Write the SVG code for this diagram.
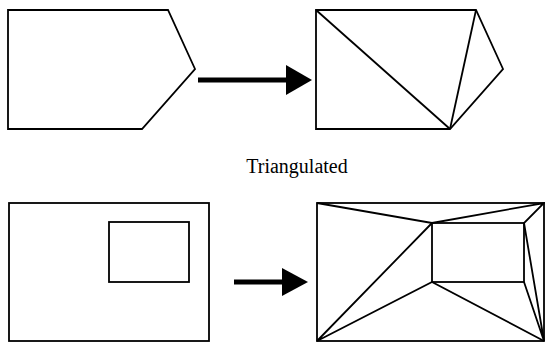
<svg xmlns="http://www.w3.org/2000/svg" width="545" height="342" viewBox="0 0 545 342">
<style>
.s{fill:none;stroke:#000;stroke-width:1.8;stroke-linejoin:miter}
.a{fill:#000;stroke:none}
.t{font-family:"Liberation Serif","Times New Roman",serif;font-size:20px;fill:#000}
</style>
<rect width="545" height="342" fill="#fff"/>
<g id="pentagon-original">
<polygon class="s" points="8,10 168,10 195,69 142,129 8,129"/>
</g>
<g id="pentagon-triangulated">
<polygon class="s" points="316,10 476,10 503,69 450,129 316,129"/>
<line class="s" x1="316" y1="10" x2="450" y2="129"/>
<line class="s" x1="476" y1="10" x2="450" y2="129"/>
</g>
<g id="label">
<text class="t" x="297" y="173" text-anchor="middle">Triangulated</text>
</g>
<g id="holed-original">
<rect class="s" x="9" y="203" width="200" height="138"/>
<rect class="s" x="109" y="222" width="80" height="60"/>
</g>
<g id="holed-triangulated">
<rect class="s" x="317" y="203" width="227" height="138"/>
<rect class="s" x="432" y="223" width="92" height="59"/>
<polyline class="s" points="317,203 432,223 544,203 524,223 544,341 524,282"/>
<polyline class="s" points="432,223 317,341 432,282 544,341"/>
</g>
<g id="connectors">
<rect class="a" x="198" y="77.5" width="90" height="5"/>
<polygon class="a" points="286,65 312,80 286,95"/>
<rect class="a" x="234" y="279.5" width="50" height="5"/>
<polygon class="a" points="282,268 308,282 282,296"/>
</g>
</svg>
